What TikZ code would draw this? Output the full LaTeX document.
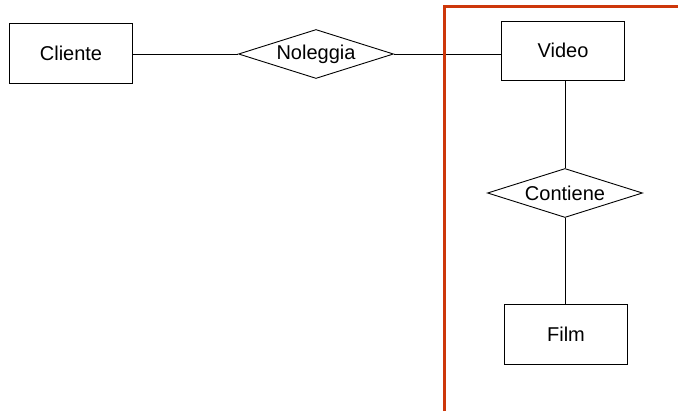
\documentclass[tikz,border=0pt]{standalone}
\usepackage{fontspec}
\setmainfont{Liberation Sans}
\usetikzlibrary{shapes.geometric}
\definecolor{bordo}{RGB}{205,55,10}
\tikzset{
    entita/.style={draw,rectangle,minimum width=123pt,minimum height=60pt,inner sep=0pt},
    relazione/.style={draw,diamond,aspect=3.16,minimum width=155pt,minimum height=49pt,inner sep=0pt},
}
\begin{document}
\begin{tikzpicture}[x=1pt,y=-1pt,line width=0.9pt,font=\fontsize{20}{24}\selectfont]
    \useasboundingbox (0,0) rectangle (678,412);
    %draw nodes
    \node[entita] (cliente) at (71,53) {Cliente};
    \node[relazione] (noleggia) at (316,54) {Noleggia};
    \node[entita,minimum height=59pt] (video) at (563,50.5) {Video};
    \node[relazione] (contiene) at (565,193) {Contiene};
    \node[entita] (film) at (566,334) {Film};
    %draw lines
    \draw (cliente.east |- noleggia.west) -- (noleggia.west);
    \draw (noleggia.east) -- (noleggia.east -| video.west);
    \draw (contiene.north |- video.south) -- (contiene.north);
    \draw (contiene.south) -- (contiene.south |- film.north);
    \draw [bordo,line width=3pt] (444,411) -- (444,7) -- (678,7);
\end{tikzpicture}
\end{document}
